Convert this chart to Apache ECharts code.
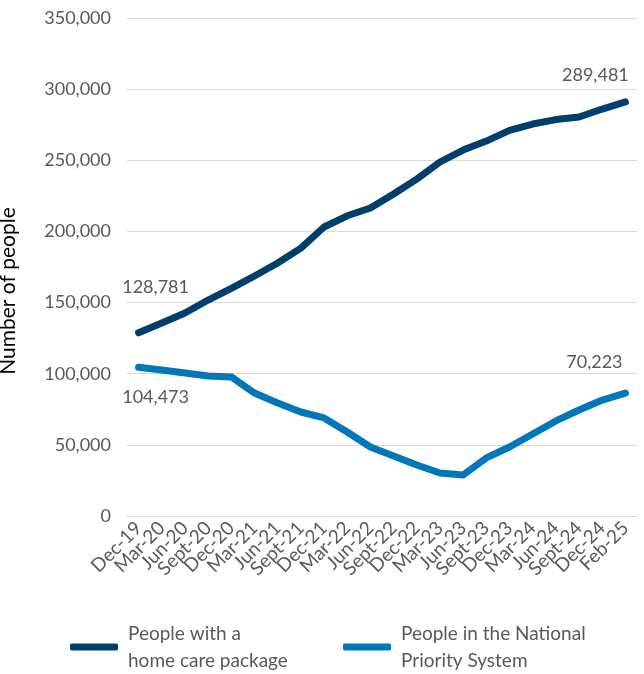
<!DOCTYPE html>
<html>
<head>
<meta charset="utf-8">
<script src="https://cdn.jsdelivr.net/npm/echarts@6/dist/echarts.min.js"></script>
<style>html,body{margin:0;padding:0;background:#fff}#c{width:644px;height:674px}</style>
</head>
<body>
<div id="c"></div>
<script>
const categories = ["Dec-19","Mar-20","Jun-20","Sept-20","Dec-20","Mar-21","Jun-21","Sept-21","Dec-21","Mar-22","Jun-22","Sept-22","Dec-22","Mar-23","Jun-23","Sept-23","Dec-23","Mar-24","Jun-24","Sept-24","Dec-24","Feb-25"];
const homeCare = [128781,135600,142700,151800,160000,168700,177800,188300,203100,211000,216500,226300,236800,248800,257200,263500,271000,275500,278600,280400,286000,291000];
const nps = [104473,102600,100500,98400,97700,86400,79400,73100,68900,59000,48500,42200,35800,30200,28800,40800,48500,57600,66800,74500,81500,86400];
const yTicks = [0,50000,100000,150000,200000,250000,300000,350000];
const seriesNames = ["People with a\nhome care package","People in the National\nPriority System"];
const endLabels = {home: ["128,781","289,481"], nps: ["104,473","70,223"]};

const FONT = 'Lato';
const GREY = '#595959';
const DARK = '#003F6B';
const LIGHT = '#0077B8';

function build(values, labels, firstCfg, lastCfg) {
  return values.map((v, i) => {
    if (i === 0) return {value: v, label: Object.assign({show: true, formatter: labels[0]}, firstCfg)};
    if (i === values.length - 1) return {value: v, label: Object.assign({show: true, formatter: labels[1]}, lastCfg)};
    return v;
  });
}

const lblStyle = {color: GREY, fontSize: 18, fontFamily: FONT};
const legendText = {color: GREY, fontSize: 19, lineHeight: 27, fontFamily: FONT, padding: [0, 0, 0, 5]};

const chart = echarts.init(document.getElementById('c'));
chart.setOption({
  animation: false,
  textStyle: {fontFamily: FONT},
  grid: {left: 127, right: 7, top: 18, bottom: 158, outerBoundsMode: 'none', containLabel: false},
  xAxis: {
    type: 'category',
    data: categories,
    boundaryGap: true,
    axisLine: {lineStyle: {color: '#d9d9d9', width: 1}},
    axisTick: {show: false},
    axisLabel: {rotate: 45, interval: 0, color: GREY, fontSize: 19, fontFamily: FONT, margin: 9}
  },
  yAxis: {
    type: 'value',
    min: 0, max: 350000, interval: 50000,
    name: 'Number of people',
    nameLocation: 'middle',
    nameGap: 108,
    nameTextStyle: {color: '#000', fontSize: 21, fontFamily: FONT, padding: [0, 48, 0, 0]},
    axisLine: {show: false},
    axisTick: {show: false},
    splitLine: {lineStyle: {color: '#d9d9d9', width: 1}},
    axisLabel: {
      color: GREY, fontSize: 18, fontFamily: FONT, margin: 16,
      formatter: v => yTicks.includes(v) ? v.toLocaleString('en-US') : ''
    }
  },
  legend: [
    {data: [{name: seriesNames[0], itemStyle: {color: DARK, opacity: 1}}], left: 70, top: 620, padding: 0,
     itemWidth: 48, itemHeight: 7, icon: 'roundRect', textStyle: legendText, selectedMode: false},
    {data: [{name: seriesNames[1], itemStyle: {color: LIGHT, opacity: 1}}], left: 343, top: 620, padding: 0,
     itemWidth: 48, itemHeight: 7, icon: 'roundRect', textStyle: legendText, selectedMode: false}
  ],
  series: [
    {
      name: seriesNames[0], type: 'line', symbol: 'circle', symbolSize: 1, showSymbol: true,
      lineStyle: {color: DARK, width: 7, cap: 'round', join: 'round'},
      itemStyle: {color: 'rgba(0,0,0,0)'},
      label: lblStyle,
      data: build(homeCare, endLabels.home,
        Object.assign({position: 'top', offset: [17, -31]}, lblStyle),
        Object.assign({position: 'top', offset: [-30, -12]}, lblStyle))
    },
    {
      name: seriesNames[1], type: 'line', symbol: 'circle', symbolSize: 1, showSymbol: true,
      lineStyle: {color: LIGHT, width: 7, cap: 'round', join: 'round'},
      itemStyle: {color: 'rgba(0,0,0,0)'},
      label: lblStyle,
      data: build(nps, endLabels.nps,
        Object.assign({position: 'bottom', offset: [17, 15]}, lblStyle),
        Object.assign({position: 'top', offset: [-31, -16]}, lblStyle))
    }
  ]
});
</script>
</body>
</html>
